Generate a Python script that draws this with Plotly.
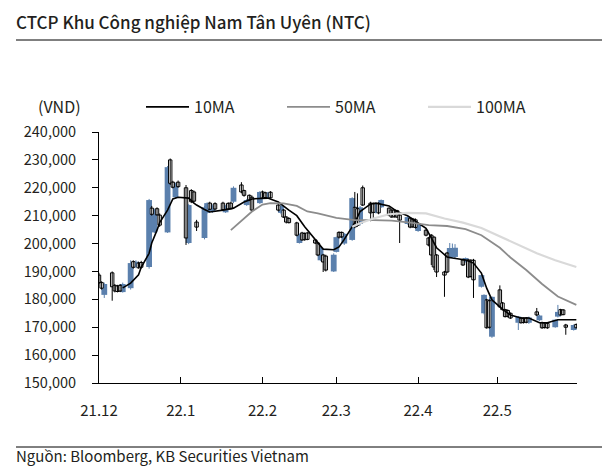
import pandas as pd
import plotly.graph_objects as go

# ---------------- data (prices in thousand VND) ----------------
PRICE_UNIT = 1000
dates = pd.bdate_range("2021-12-01", "2022-05-31")

open_k = [188.7, 186, 181.6, 189.5, 185, 184.8, 185, 182.6, 184, 193.5, 191.6, 193, 193.2, 191.6, 212.7, 204, 212.5, 210.2, 204, 230, 222, 216.6, 222,
          220, 200.2, 219, 218.5, 207.7, 202, 211, 214.5, 211.5, 214.3, 214.5, 211.2, 214.4, 214.5, 215, 221, 219, 213.8, 217.3, 216.6, 214.5,
          218.5, 218.2, 216.3, 218.4, 213.8, 211, 212, 209.5, 209, 207.4, 200.2, 203.8, 203.6, 203.8, 201.3, 200.2, 194, 195.9, 195.5, 190,
          197, 204, 204, 200, 201.3, 213, 212.5, 207, 220, 214.5, 214.3, 211, 214.4, 213, 212.7, 212, 212, 211.8, 210.2, 207, 209.1, 208.8, 208.5,
          204.5, 204.8, 202, 203, 202.3, 195.9, 189.8, 196.6, 194.8, 195, 195.2, 194.1, 193.4, 194.1, 194, 194, 184.5, 175, 179.8, 179.5, 166.6,
          183.4, 178.7, 176.3, 176, 175, 171.6, 173.3, 173.2, 173.3, 171.6, 175.5, 172.5, 171.6, 171.5, 171.4, 170, 173.8, 176.3, 176.2, 170.8, 169, 171]
high_k = [189.5, 186.5, 186, 190, 185.5, 185.2, 185.5, 186, 194, 194, 194, 193.5, 193.8, 216, 213.5, 212.5, 213, 210.8, 227.8, 230.5, 222.5, 221.8, 222.6,
          221, 214.2, 219.5, 219, 208.5, 213.5, 214.8, 215, 214, 214.8, 215, 213.8, 214.8, 215, 220.5, 222, 219.3, 216, 217.6, 217.2, 218.8,
          219, 218.6, 218.5, 218.8, 214.3, 214, 212.4, 209.8, 209.4, 207.8, 203.5, 204.2, 204, 204.1, 201.6, 200.6, 199, 196.3, 196, 196.5,
          202.5, 204.4, 204.3, 203.8, 216.6, 218.5, 218, 213.5, 220.8, 215, 214.7, 214.5, 214.8, 215.8, 213, 212.3, 212.2, 212.1, 210.6, 210, 209.5, 209.2, 209,
          207, 205.2, 202.4, 203.4, 202.6, 196.2, 190.2, 197, 200.2, 200, 199.8, 194.5, 195, 194.5, 194.4, 194.5, 188.9, 181.8, 180.2, 180, 181,
          185, 179, 176.6, 176.4, 175.3, 174, 173.6, 173.5, 173.6, 173.8, 176.9, 174.5, 172, 171.8, 171.8, 172.8, 178, 176.6, 176.5, 171.2, 171, 171.3]
low_k = [185.5, 183.5, 180.5, 179.5, 182.5, 182.5, 182.6, 182.4, 183.5, 191, 191.2, 191, 191, 191, 210, 203.8, 210, 206, 203.8, 221, 219.8, 216.2, 220,
         199.5, 199.8, 214.5, 214.8, 204.5, 201.5, 210.8, 212, 211, 212, 212, 211, 212, 212.2, 214.5, 218, 216.8, 213.5, 215.2, 211.5, 214.2,
         216, 216.2, 216, 216.2, 211.5, 210.5, 209.2, 207.2, 207.2, 202.6, 200, 201, 201, 201.2, 199.8, 195.5, 193.8, 189.8, 190, 189.8,
         196.8, 201.8, 202, 199.5, 201, 205.5, 206, 206.5, 213.5, 208, 209, 210.8, 210.5, 212.8, 209.8, 209.3, 209.3, 209.2, 200.2, 206.8, 205.5, 205.6, 205.4,
         204.2, 202.6, 199, 192.3, 190.5, 188, 180.9, 189.4, 194.5, 194.8, 194.8, 192, 193.2, 187.6, 187.8, 180.5, 184.2, 174.6, 169.5, 169.5, 166.2,
         177, 176, 173.5, 173.5, 173, 169, 171.3, 171.3, 171.4, 171.2, 174, 172.2, 169.4, 169.5, 169.4, 169.8, 173.5, 174.2, 174.3, 167.3, 168.8, 169.6]
close_k = [186, 184, 185.5, 184.5, 183, 182.8, 183, 185.5, 193, 191.5, 193.5, 191.3, 191.5, 215.6, 210.5, 212, 210.3, 206.6, 227.4, 221.6, 220.2, 221.5, 220.4,
           202, 213.8, 215, 215.2, 205.9, 213, 214.5, 212.3, 213.5, 212.4, 212.2, 213.5, 212.3, 212.5, 220, 218.5, 217.3, 215.6, 215.6, 212, 218.5,
           216.3, 216.5, 218.3, 216.4, 212, 213.6, 209.5, 207.7, 207.5, 203, 203, 201.3, 201.4, 201.5, 200.2, 195.9, 198.5, 193.4, 190.5, 196,
           202.3, 202.3, 202.4, 203.5, 216.3, 206, 206.5, 213, 213.8, 211, 211.2, 214.2, 211, 215.6, 210.2, 209.5, 209.6, 209.5, 208.4, 209.5, 205.9, 206, 205.8,
           206.8, 203, 199.5, 195.9, 191.6, 189.8, 188.7, 189.8, 198.4, 198.2, 198.5, 192.3, 194.8, 188, 188.2, 187, 188.7, 181.6, 169.8, 170, 180.9,
           177.3, 176.3, 173.8, 173.9, 173.3, 173.8, 171.6, 171.7, 171.8, 173.5, 174.4, 174.2, 169.8, 169.9, 169.8, 172.7, 175.5, 174.4, 174.5, 170, 170.8, 169.8]

ma10_dates = ["2021-12-10", "2021-12-13", "2021-12-16", "2021-12-17", "2021-12-20", "2021-12-21", "2021-12-23", "2021-12-24",
              "2021-12-27", "2021-12-29", "2021-12-31", "2022-01-04", "2022-01-06", "2022-01-07", "2022-01-10", "2022-01-12",
              "2022-01-17", "2022-01-21", "2022-01-25", "2022-01-28", "2022-02-03", "2022-02-07", "2022-02-11", "2022-02-14",
              "2022-02-17", "2022-02-21", "2022-02-24", "2022-02-28", "2022-03-02", "2022-03-04", "2022-03-08", "2022-03-10",
              "2022-03-14", "2022-03-16", "2022-03-21", "2022-03-24", "2022-03-28", "2022-03-31", "2022-04-04", "2022-04-06",
              "2022-04-08", "2022-04-12", "2022-04-14", "2022-04-19", "2022-04-22", "2022-04-25", "2022-04-27", "2022-04-29",
              "2022-05-03", "2022-05-06", "2022-05-10", "2022-05-13", "2022-05-17", "2022-05-20", "2022-05-24", "2022-05-27", "2022-05-31"]
ma10_k = [184.1, 185.8, 188.8, 191.5, 196.5, 200.2, 204.8, 207.5, 212, 216, 216.6, 216.3, 214.5, 213.8, 212.2, 211.3,
          212, 212.7, 214.9, 216, 216.3, 214.9, 212, 210, 206, 201.5, 198, 197.8, 198.8, 201.5, 207.5, 211.5,
          214.2, 214.5, 213.5, 211.5, 210, 208, 205.5, 202, 198.5, 195.2, 194.8, 194.1, 193, 189.4, 184, 179.8,
          176.5, 174.4, 173.3, 173.3, 171.6, 171.6, 172.7, 172.7, 172.7]

ma50_dates = ["2022-01-20", "2022-01-25", "2022-01-28", "2022-02-01", "2022-02-04", "2022-02-09", "2022-02-14", "2022-02-18",
              "2022-02-22", "2022-03-01", "2022-03-08", "2022-03-15", "2022-03-22", "2022-03-29", "2022-04-05", "2022-04-12",
              "2022-04-19", "2022-04-25", "2022-05-02", "2022-05-06", "2022-05-12", "2022-05-18", "2022-05-24", "2022-05-31"]
ma50_k = [204.8, 209, 211.5, 214, 214.5, 214.4, 213.5, 211.5, 210.8, 209.2, 208.4, 208.4, 208.2, 207.5, 206.6, 206.3,
          205.2, 203, 198.5, 195, 190.5, 185.5, 181, 178]

ma100_dates = ["2022-03-07", "2022-03-10", "2022-03-15", "2022-03-21", "2022-03-28", "2022-04-04", "2022-04-11", "2022-04-18",
               "2022-04-25", "2022-05-02", "2022-05-09", "2022-05-16", "2022-05-23", "2022-05-31"]
ma100_k = [206, 207.3, 209, 210.5, 211, 210.8, 209, 207.5, 205.6, 202.5, 199.5, 196.5, 194, 191.6]

y_ticks = [150000, 160000, 170000, 180000, 190000, 200000, 210000, 220000, 230000, 240000]
x_tick_dates = ["2021-12-01", "2022-01-01", "2022-02-01", "2022-03-01", "2022-04-01", "2022-05-01"]
x_tick_labels = ["21.12", "22.1", "22.2", "22.3", "22.4", "22.5"]

# ---------------- styling ----------------
BLUE = "#5B80AD"
TEXT = "#231F20"
FONT = "Noto Sans CJK KR"
DAY_MS = 86400000
OFF = 8  # page body margin of the browser

o = [v * PRICE_UNIT for v in open_k]
h = [v * PRICE_UNIT for v in high_k]
l = [v * PRICE_UNIT for v in low_k]
c = [v * PRICE_UNIT for v in close_k]
up = [ci >= oi for oi, ci in zip(o, c)]

fig = go.Figure()

# wicks
for is_up, col in [(True, BLUE), (False, "#000000")]:
    wx, wy = [], []
    for d, lo, hi, u in zip(dates, l, h, up):
        if u == is_up:
            wx += [d, d, None]
            wy += [lo, hi, None]
    fig.add_trace(go.Scatter(x=wx, y=wy, mode="lines", line=dict(color=col, width=1),
                             showlegend=False, hoverinfo="skip"))

# bodies
ux = [d for d, u in zip(dates, up) if u]
ub = [oi for oi, u in zip(o, up) if u]
uh = [max(ci - oi, 150) for oi, ci, u in zip(o, c, up) if u]
fig.add_trace(go.Bar(x=ux, y=uh, base=ub, width=2.2 * DAY_MS, marker=dict(color=BLUE, line=dict(width=0)),
                     showlegend=False))
dx = [d for d, u in zip(dates, up) if not u]
db = [ci for ci, u in zip(c, up) if not u]
dh = [max(oi - ci, 150) for oi, ci, u in zip(o, c, up) if not u]
fig.add_trace(go.Bar(x=dx, y=dh, base=db, width=1.3 * DAY_MS,
                     marker=dict(color="#FFFFFF", line=dict(color="#000000", width=1)),
                     showlegend=False))

# moving averages
fig.add_trace(go.Scatter(x=ma10_dates, y=[v * PRICE_UNIT for v in ma10_k], mode="lines", name="10MA",
                         line=dict(color="#000000", width=1.6)))
fig.add_trace(go.Scatter(x=ma50_dates, y=[v * PRICE_UNIT for v in ma50_k], mode="lines", name="50MA",
                         line=dict(color="#8C8C8C", width=1.8)))
fig.add_trace(go.Scatter(x=ma100_dates, y=[v * PRICE_UNIT for v in ma100_k], mode="lines", name="100MA",
                         line=dict(color="#D9D9D9", width=2.2)))

W, H = 616 - 2 * OFF, 476 - 2 * OFF
L, T = 99 - OFF, 132 - OFF
R = W - (577 - OFF)
B = H - (383 - OFF)
pw, ph = W - L - R, H - T - B


def px_x(px):
    return (px - OFF - L) / pw


def px_y(py):
    return (H - B - (py - OFF)) / ph


fig.update_layout(
    width=W, height=H,
    margin=dict(l=L, r=R, t=T, b=B),
    paper_bgcolor="white", plot_bgcolor="white",
    barmode="overlay",
    font=dict(family=FONT, size=15, color=TEXT),
    showlegend=True,
    legend=dict(orientation="h", x=px_x(141), xanchor="left", y=px_y(107), yanchor="middle",
                font=dict(family=FONT, size=16, color=TEXT), itemwidth=43,
                entrywidth=83, entrywidthmode="pixels", bgcolor="rgba(0,0,0,0)", traceorder="normal"),
    xaxis=dict(type="date", range=["2021-12-01", "2022-05-31 06:00"],
               tickvals=x_tick_dates, ticktext=x_tick_labels,
               ticks="inside", ticklen=6, tickcolor="#000", tickwidth=1,
               showline=True, linecolor="#000", linewidth=1, showgrid=False, zeroline=False,
               ticklabelstandoff=14, tickfont=dict(family=FONT, size=15, color=TEXT)),
    yaxis=dict(range=[150000, 240000], tickvals=y_ticks, tickformat=",d",
               ticks="outside", ticklen=6, tickcolor="#000", tickwidth=1,
               showline=True, linecolor="#000", linewidth=1, showgrid=False, zeroline=False,
               ticklabelstandoff=13, tickfont=dict(family=FONT, size=14.5, color=TEXT)),
    yaxis2=dict(range=[150000, 240000], tickvals=y_ticks, overlaying="y", side="left",
                ticks="inside", ticklen=6, tickcolor="#000", tickwidth=1,
                showticklabels=False, showline=False, showgrid=False, zeroline=False),
)

fig.add_annotation(text="CTCP Khu Công nghiệp Nam Tân Uyên (NTC)", xref="paper", yref="paper",
                   x=px_x(14), y=px_y(22), xanchor="left", yanchor="middle", showarrow=False,
                   font=dict(family=FONT, size=17, color=TEXT, weight=500))
fig.add_annotation(text="(VND)", xref="paper", yref="paper", x=px_x(59), y=px_y(106),
                   xanchor="center", yanchor="middle", showarrow=False,
                   font=dict(family=FONT, size=16, color=TEXT))
fig.add_annotation(text="Nguồn: Bloomberg, KB Securities Vietnam", xref="paper", yref="paper",
                   x=px_x(14), y=px_y(468), xanchor="left", yanchor="bottom", showarrow=False,
                   font=dict(family=FONT, size=15, color=TEXT))
fig.add_shape(type="line", xref="paper", yref="paper", x0=px_x(16), x1=px_x(602), y0=px_y(40), y1=px_y(40),
              line=dict(color="#000", width=1))
fig.add_shape(type="line", xref="paper", yref="paper", x0=px_x(16), x1=px_x(602), y0=px_y(447), y1=px_y(447),
              line=dict(color="#000", width=1))

fig.write_html("out.html")
